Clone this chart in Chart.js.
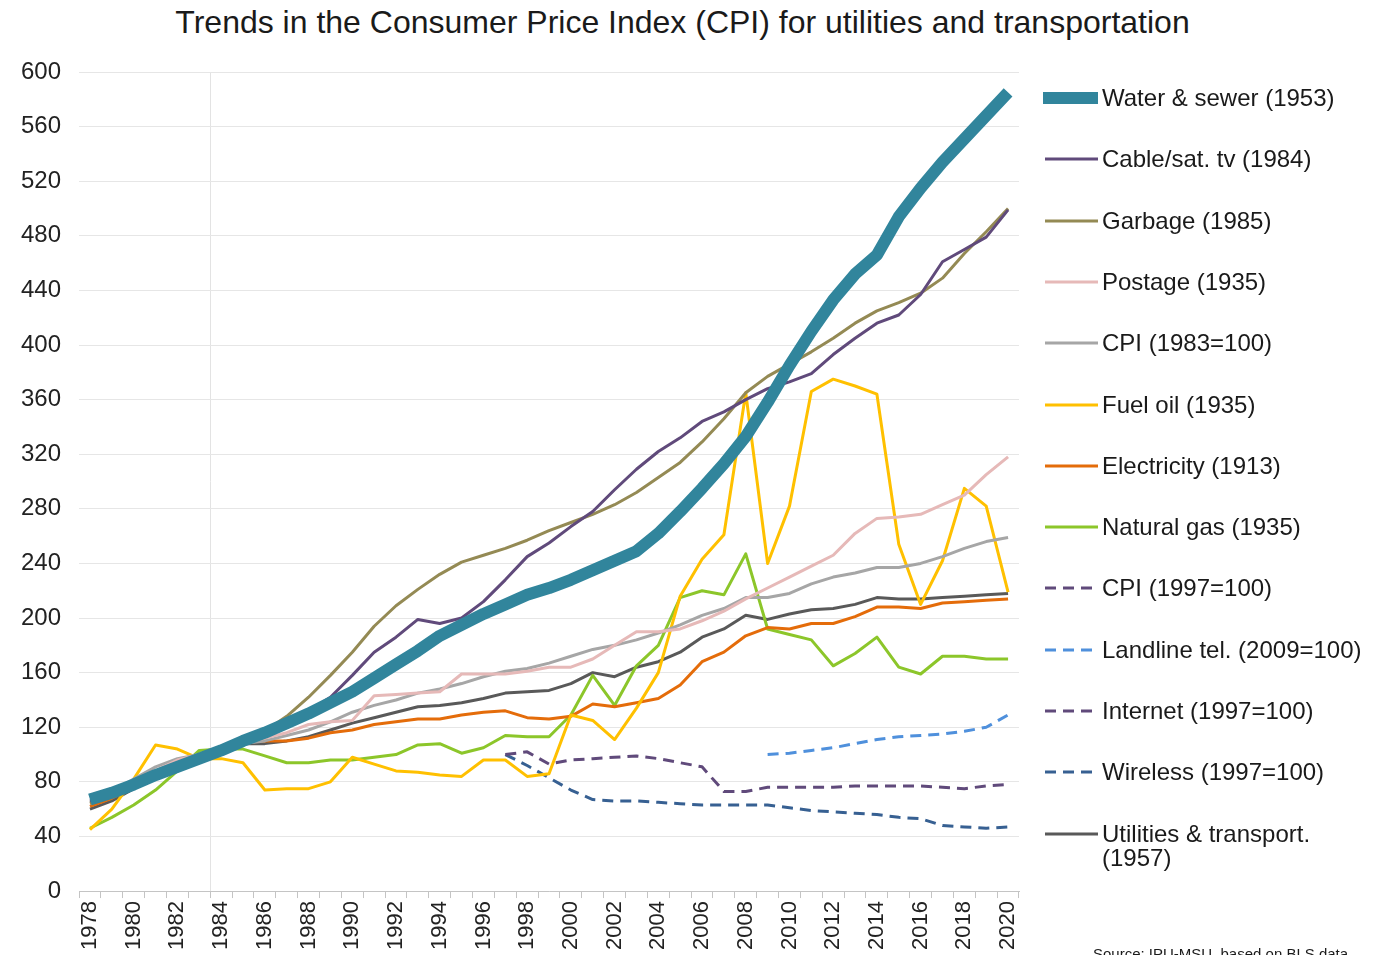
<!DOCTYPE html>
<html>
<head>
<meta charset="utf-8">
<script src="https://cdn.jsdelivr.net/npm/chart.js@4.4.1/dist/chart.umd.min.js"></script>
<style>
  body { margin: 0; background: #fff; }
  #wrap { position: relative; width: 1382px; height: 955px; overflow: hidden; background: #fff;
          font-family: "Liberation Sans", Arial, sans-serif; color: #1a1a1a; }
  #title { position: absolute; top: 4px; left: 0; width: 1365px; text-align: center;
           font-size: 32px; line-height: 36px; }
  #chart { position: absolute; left: 0; top: 0; }
  .item { position: absolute; left: 1041px; height: 28px; }
  .item svg { position: absolute; left: 0; top: 0; }
  .item span { position: absolute; left: 61px; top: 0; font-size: 24px; line-height: 28px; white-space: nowrap; }
  .item.two span { line-height: 24px; top: 2px; }
  #source { position: absolute; left: 1093px; top: 946px; font-size: 15px; line-height: 16px; white-space: nowrap; }
</style>
</head>
<body>
<div id="wrap">
  <div id="title">Trends in the Consumer Price Index (CPI) for utilities and transportation</div>
  <canvas id="chart" width="1382" height="955"></canvas>
  <div id="legend"></div>
  <div id="source">Source: IPU-MSU, based on BLS data.</div>
</div>
<script>
var years = [1978, 1979, 1980, 1981, 1982, 1983, 1984, 1985, 1986, 1987,
    1988, 1989, 1990, 1991, 1992, 1993, 1994, 1995, 1996, 1997,
    1998, 1999, 2000, 2001, 2002, 2003, 2004, 2005, 2006, 2007,
    2008, 2009, 2010, 2011, 2012, 2013, 2014, 2015, 2016, 2017,
    2018, 2019, 2020];

var waterSewer = [67, 72, 78, 85, 91, 97, 103, 110, 116, 123,
    130, 138, 146, 156, 166, 176, 187, 195, 203, 210,
    217, 222, 228, 235, 242, 249, 262, 278, 295, 313,
    333, 358, 385, 410, 433, 452, 466, 494, 515, 534,
    551, 568, 585];
var cableTv = [66, 71, 77, 83, 90, 97, 104, 110, 116, 124,
    132, 142, 158, 175, 186, 199, 196, 200, 212, 228,
    245, 255, 267, 278, 294, 309, 322, 332, 344, 351,
    360, 368, 373, 379, 393, 405, 416, 422, 437, 461,
    470, 479, 499];
var garbage = [64, 70, 77, 84, 91, 97, 104, 110, 117, 128,
    142, 158, 175, 194, 209, 221, 232, 241, 246, 251,
    257, 264, 270, 276, 283, 292, 303, 314, 329, 346,
    365, 377, 386, 395, 405, 416, 425, 431, 438, 449,
    467, 483, 500];
var postage = [70, 75, 80, 88, 96, 100, 104, 108, 112, 116,
    122, 124, 125, 143, 144, 145, 146, 159, 159, 159,
    161, 164, 164, 170, 180, 190, 190, 192, 198, 205,
    214, 222, 230, 238, 246, 262, 273, 274, 276, 283,
    290, 305, 318];
var cpi1983 = [65, 73, 82, 91, 97, 100, 104, 108, 110, 114,
    118, 124, 131, 136, 140, 145, 148, 152, 157, 161,
    163, 167, 172, 177, 180, 184, 189, 195, 202, 207,
    215, 215, 218, 225, 230, 233, 237, 237, 240, 245,
    251, 256, 259];
var fuelOil = [45, 60, 82, 107, 104, 97, 97, 94, 74, 75,
    75, 80, 98, 93, 88, 87, 85, 84, 96, 96,
    84, 86, 129, 125, 111, 134, 160, 216, 243, 261,
    365, 240, 282, 366, 375, 370, 364, 254, 210, 242,
    295, 282, 219];
var electricity = [62, 68, 76, 86, 95, 100, 106, 109, 110, 110,
    112, 116, 118, 122, 124, 126, 126, 129, 131, 132,
    127, 126, 128, 137, 135, 138, 141, 151, 168, 175,
    187, 193, 192, 196, 196, 201, 208, 208, 207, 211,
    212, 213, 214];
var naturalGas = [46, 54, 63, 74, 88, 103, 104, 104, 99, 94,
    94, 96, 96, 98, 100, 107, 108, 101, 105, 114,
    113, 113, 129, 158, 136, 165, 180, 215, 220, 217,
    247, 192, 188, 184, 165, 174, 186, 164, 159, 172,
    172, 170, 170];
var cpi1997 = [];
// 2009 onwards
var landline = [100, 101, 103, 105, 108, 111, 113, 114, 115, 117, 120, 129];
// 1997 onwards
var internet = [100, 102, 93, 96, 97, 98, 99, 97, 94, 91, 73, 73,
    76, 76, 76, 76, 77, 77, 77, 77, 76, 75, 77, 78];
var wireless = [100, 92, 83, 74, 67, 66, 66, 65, 64, 63, 63, 63,
    63, 61, 59, 58, 57, 56, 54, 53, 48, 47, 46, 47];
var utilities = [60, 66, 75, 84, 92, 99, 105, 108, 108, 110,
    113, 118, 123, 127, 131, 135, 136, 138, 141, 145,
    146, 147, 152, 160, 157, 164, 168, 175, 186, 192,
    202, 199, 203, 206, 207, 210, 215, 214, 214, 215,
    216, 217, 218];

// put a series that starts later on the full year axis
function fromYear(start, vals) {
    var out = [];
    for (var i = 0; i < years.length; i++) {
        var k = years[i] - start;
        out.push(k >= 0 && k < vals.length ? vals[k] : null);
    }
    return out;
}

var DASH = [11, 7];
var series = [
    { label: 'Water & sewer (1953)', data: waterSewer, color: '#31859c', width: 12 },
    { label: 'Cable/sat. tv (1984)', data: cableTv, color: '#604a7b', width: 3 },
    { label: 'Garbage (1985)', data: garbage, color: '#948a54', width: 3 },
    { label: 'Postage (1935)', data: postage, color: '#e6b9b8', width: 3 },
    { label: 'CPI (1983=100)', data: cpi1983, color: '#a6a6a6', width: 3 },
    { label: 'Fuel oil (1935)', data: fuelOil, color: '#ffc000', width: 3 },
    { label: 'Electricity (1913)', data: electricity, color: '#e46c0a', width: 3 },
    { label: 'Natural gas (1935)', data: naturalGas, color: '#8cc62a', width: 3 },
    { label: 'CPI (1997=100)', data: fromYear(1997, cpi1997), color: '#604a7b', width: 3, dash: DASH },
    { label: 'Landline tel. (2009=100)', data: fromYear(2009, landline), color: '#4f90dc', width: 3, dash: DASH },
    { label: 'Internet (1997=100)', data: fromYear(1997, internet), color: '#604a7b', width: 3, dash: DASH },
    { label: 'Wireless (1997=100)', data: fromYear(1997, wireless), color: '#376092', width: 3, dash: DASH },
    { label: ['Utilities & transport.', '(1957)'], data: utilities, color: '#595959', width: 3 }
];

Chart.defaults.font.family = '"Liberation Sans", Arial, sans-serif';
Chart.defaults.color = '#222';

var ctx = document.getElementById('chart').getContext('2d');
new Chart(ctx, {
    type: 'line',
    data: {
        labels: years,
        datasets: series.map(function (s) {
            return {
                label: Array.isArray(s.label) ? s.label.join(' ') : s.label,
                data: s.data,
                borderColor: s.color,
                backgroundColor: s.color,
                borderWidth: s.width,
                borderDash: s.dash || [],
                borderJoinStyle: 'round',
                pointRadius: 0,
                tension: 0,
                fill: false,
                spanGaps: false
            };
        })
    },
    options: {
        responsive: false,
        animation: false,
        layout: {
            padding: { top: 72, left: 3, right: 363, bottom: 2 }
        },
        plugins: {
            legend: { display: false },
            title: { display: false },
            tooltip: { enabled: false }
        },
        scales: {
            x: {
                offset: true,
                grid: {
                    offset: true,
                    color: function (c) { return c.index === 6 ? '#e3e3e3' : 'rgba(0,0,0,0)'; },
                    tickColor: '#c4c4c4',
                    tickLength: 7
                },
                border: { display: true, color: '#c4c4c4' },
                ticks: {
                    autoSkip: false,
                    minRotation: 90,
                    maxRotation: 90,
                    padding: 3,
                    font: { size: 22 },
                    color: '#222',
                    callback: function (v, i) { return years[i] % 2 === 0 ? String(years[i]) : ''; }
                }
            },
            y: {
                min: 0,
                max: 600,
                ticks: { stepSize: 40, padding: 18, font: { size: 24 }, color: '#222' },
                grid: { color: '#e6e6e6', drawTicks: false },
                border: { display: false }
            }
        }
    }
});

// legend on the right, built from the same series list
var legendEl = document.getElementById('legend');
series.forEach(function (s, i) {
    var cy = 98 + i * 61.3;
    var item = document.createElement('div');
    item.className = 'item' + (Array.isArray(s.label) ? ' two' : '');
    item.style.top = (cy - 14) + 'px';
    var dash = s.dash ? ' stroke-dasharray="' + s.dash.join(' ') + '"' : '';
    var x1 = s.width > 3 ? 2 : 4;
    item.innerHTML = '<svg width="60" height="28"><line x1="' + x1 + '" y1="14" x2="57" y2="14" stroke="' + s.color +
        '" stroke-width="' + s.width + '"' + dash + '/></svg>';
    var span = document.createElement('span');
    if (Array.isArray(s.label)) {
        span.innerHTML = s.label.map(function (t) { return t.replace(/&/g, '&amp;'); }).join('<br>');
    } else {
        span.textContent = s.label;
    }
    item.appendChild(span);
    legendEl.appendChild(item);
});
</script>
</body>
</html>
